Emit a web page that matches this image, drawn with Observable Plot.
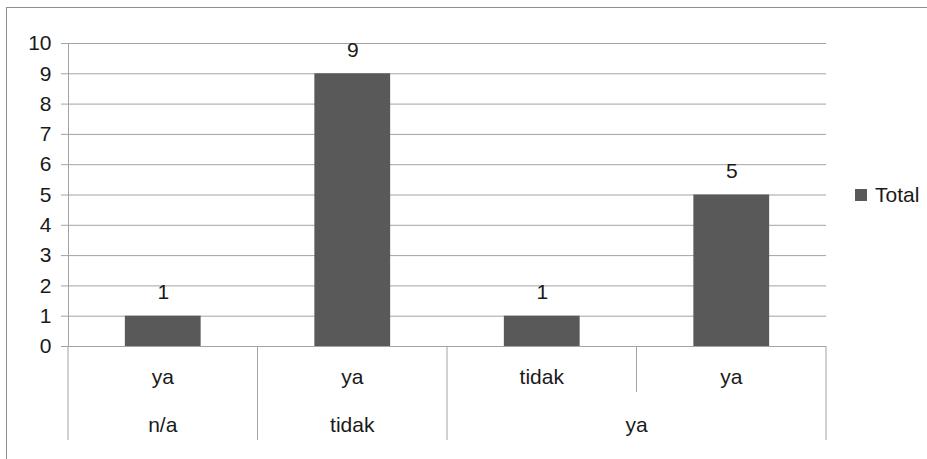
<!DOCTYPE html>
<html><head><meta charset="utf-8">
<script src="https://cdn.jsdelivr.net/npm/d3@7"></script>
<script src="https://cdn.jsdelivr.net/npm/@observablehq/plot@0.6"></script>
<style>
body{margin:0;background:#fff;font-family:"Liberation Sans",Arial,sans-serif;}
#wrap{position:relative;width:927px;height:459px;overflow:hidden;background:#fff;}
#border{position:absolute;left:6px;top:7px;width:940px;height:470px;border:1px solid #8f8f8f;box-sizing:border-box;}
#legend{position:absolute;left:855px;top:183px;font-size:21px;line-height:24px;color:#1a1a1a;display:flex;align-items:center;}
#legend .sw{display:inline-block;width:12px;height:12px;background:#595959;margin-right:8px;}
#chart{position:absolute;left:0;top:0;}
</style></head><body>
<div id="wrap"><div id="border"></div><div id="chart"></div><div id="legend"><span class="sw"></span><span id="lt"></span></div></div>
<script>
const groups = ["n/a","tidak","ya","ya"];
const inner = ["ya","ya","tidak","ya"];
const values = [1,9,1,5];
const seriesName = "Total";
const yTicks = [0,1,2,3,4,5,6,7,8,9,10];

const data = values.map((v,i)=>({i, value:v, inner:inner[i], group:groups[i]}));
const spans = [];
groups.forEach((g,i)=>{
  const last = spans[spans.length-1];
  if (last && last.group===g) last.end=i+1; else spans.push({group:g,start:i,end:i+1});
});

const gridColor = "#a3a3a3";
const textColor = "#1a1a1a";
const fs = 21;

const categoryAxis = (index, scales) => {
  const x = scales.x, y0 = scales.y(0);
  const g = d3.create("svg:g")
    .attr("font-size",fs).attr("fill",textColor).attr("text-anchor","middle");
  for (let i=0;i<=groups.length;i++){
    const outer = i===0 || i===groups.length || groups[i]!==groups[i-1];
    g.append("line").attr("x1",x(i)).attr("x2",x(i)).attr("y1",y0).attr("y2",y0+(outer?94:46))
      .attr("stroke",gridColor);
  }
  inner.forEach((t,i)=>{
    g.append("text").attr("x",x(i+0.5)).attr("y",y0+38).text(t);
  });
  spans.forEach(s=>{
    g.append("text").attr("x",x((s.start+s.end)/2)).attr("y",y0+86).text(s.group);
  });
  return g.node();
};

const chart = Plot.plot({
  width: 927,
  height: 459,
  marginLeft: 68,
  marginRight: 101,
  marginTop: 43,
  marginBottom: 113,
  style: {fontFamily:"'Liberation Sans', Arial, sans-serif", background:"transparent", color:textColor},
  x: {type:"linear", domain:[0, groups.length]},
  y: {domain:[0,10]},
  marks: [
    Plot.ruleY(yTicks, {stroke:gridColor}),
    Plot.ruleX([0], {stroke:gridColor}),
    Plot.axisY(yTicks, {tickSize:7, tickPadding:10, fontSize:fs, stroke:gridColor, fill:textColor, label:null}),
    Plot.axisX({ticks:[], label:null, tickSize:0}),
    Plot.rectY(data, {x1:d=>d.i+0.3, x2:d=>d.i+0.7, y:"value", fill:"#595959"}),
    Plot.text(data, {x:d=>d.i+0.5, y:"value", text:d=>String(d.value), dy:-17, lineAnchor:"bottom", fontSize:fs, fill:textColor}),
    categoryAxis
  ]
});
document.getElementById("chart").appendChild(chart);
document.getElementById("lt").textContent = seriesName;
</script>
</body></html>
